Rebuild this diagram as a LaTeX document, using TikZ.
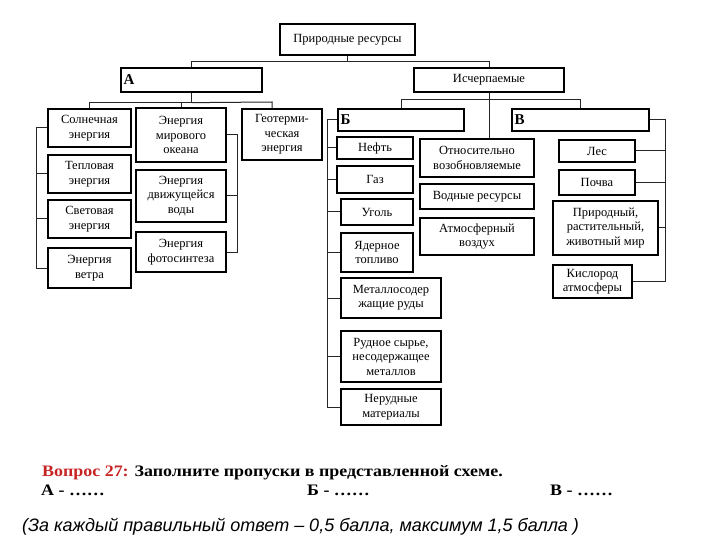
\documentclass[tikz,border=0pt]{standalone}
\usepackage{fontspec}
\setmainfont{Liberation Serif}
\setsansfont{Liberation Sans}
\definecolor{qred}{RGB}{200,35,35}
\begin{document}
\begin{tikzpicture}[x=1pt,y=-1pt,
  box/.style={draw=black,line width=1.3pt,inner sep=1pt,align=center,
    font=\fontsize{12.5}{14.5}\selectfont},
  lettr/.style={anchor=west,font=\bfseries\fontsize{15}{17}\selectfont,inner sep=3pt},
  qtext/.style={anchor=base west,inner sep=0,font=\bfseries\fontsize{16}{18}\selectfont},
  conn/.style={line width=1pt,draw=black!85}]
\useasboundingbox[fill=white] (0,0) rectangle (720,540);
% top level
\node[box,minimum width=135,minimum height=31] (top) at (347.5,39.5) {Природные ресурсы};
\node[box,minimum width=141,minimum height=24,label={[lettr]west:А}] (A) at (191.5,80) {};
\node[box,minimum width=150,minimum height=24] (isch) at (489,80) {Исчерпаемые};
% A children
\node[box,minimum width=83,minimum height=38] (sol) at (89.5,128) {Солнечная\\энергия};
\node[box,minimum width=83,minimum height=38] (tep) at (89.5,174) {Тепловая\\энергия};
\node[box,minimum width=83,minimum height=38] (svet) at (89.5,219) {Световая\\энергия};
\node[box,minimum width=83,minimum height=40] (vet) at (89.5,268) {Энергия\\ветра};
\node[box,minimum width=90,minimum height=54] (oke) at (181,135) {Энергия\\мирового\\океана};
\node[box,minimum width=90,minimum height=52] (dvi) at (181,196) {Энергия\\движущейся\\воды};
\node[box,minimum width=90,minimum height=40] (fot) at (181,252) {Энергия\\фотосинтеза};
\node[box,minimum width=80,minimum height=51] (geo) at (282,134.5) {Геотерми-\\ческая\\энергия};
% B, V
\node[box,minimum width=126,minimum height=22,label={[lettr]west:Б}] (B) at (401,120) {};
\node[box,minimum width=137,minimum height=22,label={[lettr]west:В}] (V) at (580.5,120) {};
% B children
\node[box,minimum width=76,minimum height=22] (neft) at (375,148) {Нефть};
\node[box,minimum width=76,minimum height=27] (gaz) at (375,179.5) {Газ};
\node[box,minimum width=72,minimum height=26] (ugol) at (377,212) {Уголь};
\node[box,minimum width=72,minimum height=39] (yad) at (377,252.5) {Ядерное\\топливо};
\node[box,minimum width=100,minimum height=40] (met) at (391,298) {Металлосодер\\жащие руды};
\node[box,minimum width=100,minimum height=51] (rud) at (391,356.5) {Рудное сырье,\\несодержащее\\металлов};
\node[box,minimum width=100,minimum height=36] (ner) at (391,407) {Нерудные\\материалы};
% middle
\node[box,minimum width=114,minimum height=38] (rel) at (477,158) {Относительно\\возобновляемые};
\node[box,minimum width=114,minimum height=25] (vod) at (477,196.5) {Водные ресурсы};
\node[box,minimum width=114,minimum height=37] (atm) at (477,236.5) {Атмосферный\\воздух};
% V children
\node[box,minimum width=76,minimum height=22] (les) at (597,151) {Лес};
\node[box,minimum width=76,minimum height=25] (poch) at (597,182.5) {Почва};
\node[box,minimum width=105,minimum height=54] (mir) at (605.5,228) {Природный,\\растительный,\\животный мир};
\node[box,minimum width=79,minimum height=33] (kis) at (592.5,281.5) {Кислород\\атмосферы};
% connectors
\coordinate (geoX) at (272,102);
\draw[conn] (top.south) -- ++(0,6) coordinate (tj);
\draw[conn] (A.north) |- (tj) -| (isch.north);
\draw[conn] (A.south) -- ++(0,10) coordinate (aj);
\draw[conn] (sol.north) |- (aj) -| (oke.north);
\draw[conn] (aj) -- (geoX) -- (geoX |- geo.north);
\draw[conn] (sol.west) -- ++(-11,0) coordinate (lb) |- (vet.west);
\draw[conn] (tep.west) -- (tep.west -| lb);
\draw[conn] (svet.west) -- (svet.west -| lb);
\draw[conn] (oke.east) -- ++(11,0) coordinate (mb) |- (fot.east);
\draw[conn] (dvi.east) -- (dvi.east -| mb);
\draw[conn] (isch.south) -- (isch.south |- rel.north);
\draw[conn] (B.north) -- ++(0,-9) -| (V.north);
\draw[conn] (B.west) -- ++(-10,0) coordinate (bb) |- (ner.west);
\foreach \n in {neft,gaz,ugol,yad,met,rud} \draw[conn] (\n.west) -- (\n.west -| bb);
\draw[conn] (V.east) -- ++(16,0) coordinate (vb) |- (kis.east);
\foreach \n in {les,poch,mir} \draw[conn] (\n.east) -- (\n.east -| vb);
% question text
\node[qtext] (q) at (42,476)
  {\scalebox{1.12}[1]{\textcolor{qred}{Вопрос 27:} Заполните пропуски в представленной схеме.}};
\node[qtext] (qa) at (41,495) {\scalebox{1.12}[1]{А - ……}};
\node[qtext] (qb) at (307,495) {\scalebox{1.12}[1]{Б - ……}};
\node[qtext] (qv) at (550,495) {\scalebox{1.12}[1]{В - ……}};
\node[anchor=base west,inner sep=0,font=\sffamily\itshape\fontsize{18}{20}\selectfont] (note) at (22,531)
  {(За каждый правильный ответ – 0,5 балла, максимум 1,5 балла )};
\end{tikzpicture}
\end{document}
